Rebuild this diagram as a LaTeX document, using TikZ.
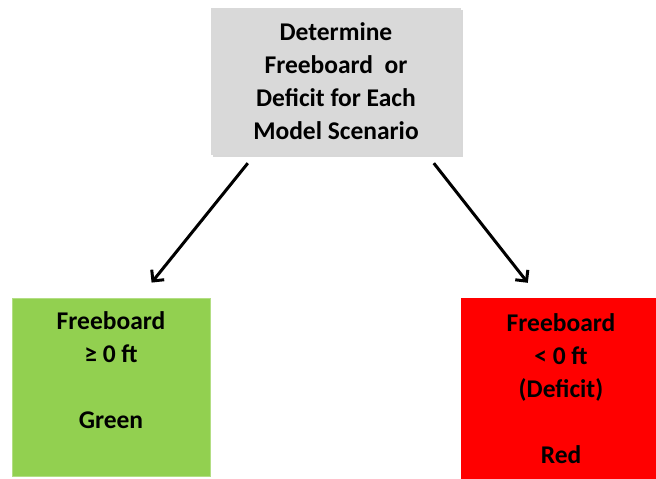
\documentclass[tikz,border=0pt]{standalone}
\usepackage{fontspec}
\setmainfont{Carlito}
\usetikzlibrary{arrows.meta,calc}
\definecolor{boxgray}{HTML}{D9D9D9}
\definecolor{boxgreen}{HTML}{92D050}
\definecolor{boxred}{HTML}{FF0000}
\definecolor{shadowgray}{HTML}{BFBFBF}
\tikzset{
  box/.style={rectangle, inner sep=0pt, align=center, font=\bfseries\fontsize{25.5}{33}\selectfont, text=black},
  flowarrow/.style={line width=3pt, -{Straight Barb[length=8pt,width=16pt,line width=3pt]}}
}
\begin{document}
\begin{tikzpicture}[x=1pt,y=1pt]
\useasboundingbox (0,0) rectangle (656,479);
\fill[white] (0,0) rectangle (656,479);
% shadow of top box
\fill[shadowgray,opacity=0.6] (213,322) rectangle (463,469);
\node[box, fill=boxgray, minimum width=250pt, minimum height=147pt] (top) at (336,397.5)
  {Determine\\Freeboard \ or\\Deficit for Each\\Model Scenario};
\node[box, fill=boxgreen, draw=boxgreen!70!white, line width=0.8pt, minimum width=198pt, minimum height=178pt] (green) at (111,92)
  {Freeboard\\≥ 0 ft\\[33pt]Green\\\mbox{}};
\node[box, fill=boxred, minimum width=200pt, minimum height=182pt] (red) at (561,90)
  {Freeboard\\< 0 ft\\(Deficit)\\[33pt]Red};
\coordinate (ls) at ($(top.south west)+(37,-8)$);
\coordinate (le) at ($(green.north west)+(140,15)$);
\coordinate (rs) at ($(top.south west)+(223,-8)$);
\coordinate (re) at ($(red.north west)+(67,15)$);
\draw[flowarrow] (ls) -- (le);
\draw[flowarrow] (rs) -- (re);
\end{tikzpicture}
\end{document}
